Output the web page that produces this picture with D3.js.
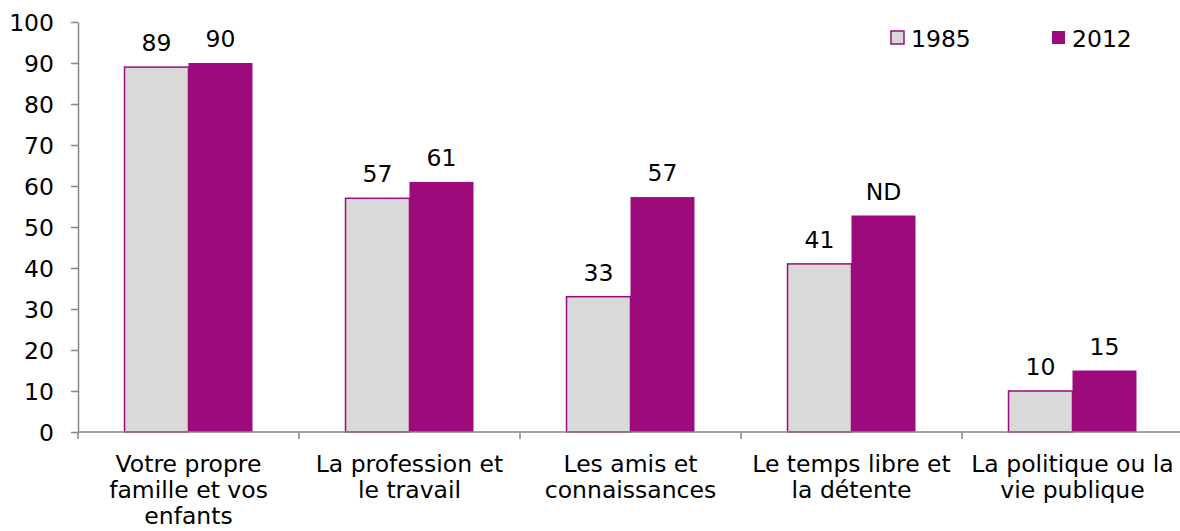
<!DOCTYPE html>
<html>
<head>
    <script src="https://d3js.org/d3.v7.min.js"></script>
    <style>
        body { margin: 0; background: #fff; }
        text { font-family: "DejaVu Sans", Verdana, sans-serif; fill: #000; }
    </style>
</head>
<body>
    <div id="chart"></div>
    <script>
        let categories = [
            "Votre propre\nfamille et vos\nenfants",
            "La profession et\nle travail",
            "Les amis et\nconnaissances",
            "Le temps libre et\nla détente",
            "La politique ou la\nvie publique"
        ];
        let years = ["1985", "2012"];
        let values1985 = [89, 57, 33, 41, 10];
        let values2012 = [90, 61, 57.3, 52.8, 15];
        let labels1985 = ["89", "57", "33", "41", "10"];
        let labels2012 = ["90", "61", "57", "ND", "15"];
        let yTicks = [0, 10, 20, 30, 40, 50, 60, 70, 80, 90, 100];

        let width = 1180, height = 531;
        let marginLeft = 78, marginRight = -3, marginTop = 22, marginBottom = 99;
        let purple = "#9c0a7b", grey = "#d9d9d9", axisColor = "#868686";
        let fontSize = "23.5px";

        let data = categories.map((c, i) => ({
            cat: c,
            bars: [
                {year: "1985", value: values1985[i], label: labels1985[i]},
                {year: "2012", value: values2012[i], label: labels2012[i]}
            ]
        }));

        let svg = d3.select("#chart").append("svg")
            .attr("width", width)
            .attr("height", height);

        let x = d3.scaleBand()
            .domain(categories)
            .range([marginLeft, width - marginRight])
            .padding(0);

        let x1 = d3.scaleBand()
            .domain(years)
            .range([0, x.bandwidth()])
            .paddingInner(0)
            .paddingOuter(0.727);

        let y = d3.scaleLinear()
            .domain([0, 100])
            .range([height - marginBottom, marginTop]);

        // y axis
        let yAxis = svg.append("g")
            .attr("transform", `translate(${marginLeft},0)`)
            .call(d3.axisLeft(y).tickValues(yTicks).tickSize(7).tickPadding(17).tickSizeOuter(0));
        yAxis.selectAll("path, line").attr("stroke", axisColor).attr("stroke-width", 1.5);
        yAxis.selectAll("text").style("font-size", fontSize).attr("dy", "0.36em");

        // bars
        let group = svg.append("g")
            .selectAll("g")
            .data(data)
            .join("g")
            .attr("transform", d => `translate(${x(d.cat)},0)`);

        group.selectAll("rect")
            .data(d => d.bars)
            .join("rect")
            .attr("x", d => x1(d.year))
            .attr("y", d => y(d.value))
            .attr("width", x1.bandwidth())
            .attr("height", d => y(0) - y(d.value))
            .attr("fill", d => d.year === "1985" ? grey : purple)
            .attr("stroke", d => d.year === "1985" ? purple : "none")
            .attr("stroke-width", 1.5);

        group.selectAll("text.val")
            .data(d => d.bars)
            .join("text")
            .attr("class", "val")
            .attr("x", d => x1(d.year) + x1.bandwidth() / 2)
            .attr("y", d => y(d.value) - 16)
            .attr("text-anchor", "middle")
            .style("font-size", fontSize)
            .text(d => d.label);

        // x axis
        let xAxis = svg.append("g")
            .attr("transform", `translate(0,${y(0)})`);
        xAxis.append("line")
            .attr("x1", marginLeft).attr("x2", width)
            .attr("stroke", axisColor).attr("stroke-width", 1.5);
        let bounds = categories.map(c => x(c)).concat([x.range()[1]]);
        xAxis.selectAll("line.tick")
            .data(bounds)
            .join("line")
            .attr("class", "tick")
            .attr("x1", d => d).attr("x2", d => d)
            .attr("y1", 0).attr("y2", 7)
            .attr("stroke", axisColor).attr("stroke-width", 1.5);

        let catLabels = svg.append("g")
            .selectAll("text")
            .data(categories)
            .join("text")
            .attr("text-anchor", "middle")
            .style("font-size", fontSize)
            .attr("transform", d => `translate(${x(d) + x.bandwidth() / 2},${y(0) + 40})`);
        catLabels.selectAll("tspan")
            .data(d => d.split("\n"))
            .join("tspan")
            .attr("x", 0)
            .attr("y", (d, i) => i * 26)
            .text(d => d);

        // legend
        let legend = svg.append("g")
            .selectAll("g")
            .data(years)
            .join("g")
            .attr("transform", (d, i) => `translate(${891 + i * 161},31)`);
        legend.append("rect")
            .attr("width", 13).attr("height", 13)
            .attr("fill", d => d === "1985" ? grey : purple)
            .attr("stroke", d => d === "1985" ? purple : "none")
            .attr("stroke-width", 1.5);
        legend.append("text")
            .attr("x", 20).attr("y", 16)
            .style("font-size", fontSize)
            .text(d => d);
    </script>
</body>
</html>
